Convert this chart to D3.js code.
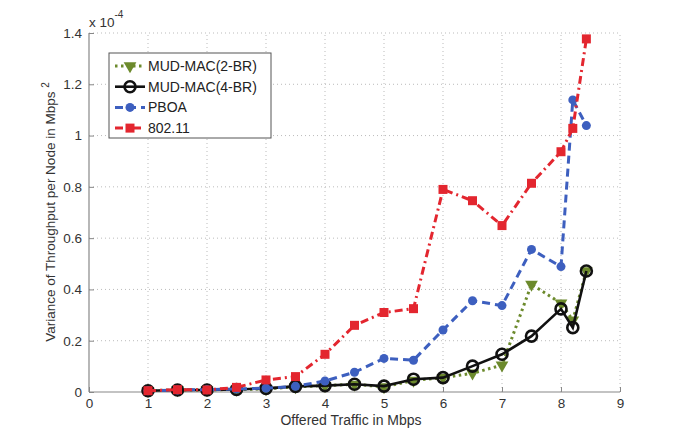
<!DOCTYPE html>
<html><head><meta charset="utf-8">
<script src="https://cdn.jsdelivr.net/npm/d3@7"></script>
<style>body{margin:0;background:#fff}svg{display:block}text{font-family:"Liberation Sans",Arial,sans-serif}</style>
</head><body><svg id="c" width="685" height="441"></svg>
<script>
const xValues = [1,1.5,2,2.5,3,3.5,4,4.5,5,5.5,6,6.5,7,7.5,8,8.2,8.43];
const mud2 = [0.005,0.008,0.008,0.01,0.012,0.02,0.025,0.03,0.02,0.045,0.056,0.073,0.105,0.42,0.346,0.28,0.472];
const mud4 = [0.005,0.008,0.008,0.01,0.014,0.022,0.025,0.03,0.023,0.05,0.056,0.101,0.147,0.218,0.324,0.251,0.472];
const pboa = [0.005,0.008,0.009,0.012,0.015,0.022,0.043,0.077,0.131,0.124,0.242,0.356,0.337,0.556,0.489,1.139,1.039];
const w80211 = [0.005,0.009,0.008,0.018,0.047,0.06,0.147,0.26,0.31,0.325,0.79,0.746,0.649,0.814,0.937,1.028,1.377];
const seriesNames = ["MUD-MAC(2-BR)","MUD-MAC(4-BR)","PBOA","802.11"];
const xTicks = [0,1,2,3,4,5,6,7,8,9];
const yTicks = [0,0.2,0.4,0.6,0.8,1,1.2,1.4];
const yTickLabels = ["0","0.2","0.4","0.6","0.8","1","1.2","1.4"];

const svg = d3.select("#c");
const L=89,R=620,T=33,B=392;
const x = d3.scaleLinear().domain([0,9]).range([L,R]);
const y = d3.scaleLinear().domain([0,1.4]).range([B,T]);

// grid
const g = svg.append("g");
g.selectAll(".gx").data(xTicks.slice(1)).join("line")
 .attr("x1",d=>x(d)).attr("x2",d=>x(d)).attr("y1",B).attr("y2",T)
 .attr("stroke","#bbb").attr("stroke-width",1).attr("stroke-dasharray","1,3");
g.selectAll(".gy").data(yTicks.slice(1)).join("line")
 .attr("y1",d=>y(d)).attr("y2",d=>y(d)).attr("x1",L).attr("x2",R)
 .attr("stroke","#bbb").attr("stroke-width",1).attr("stroke-dasharray","1,3");

// axes
const xa = svg.append("g").attr("transform",`translate(0,${B})`)
 .call(d3.axisBottom(x).tickValues(xTicks).tickSize(-5).tickPadding(6).tickFormat(d3.format("d")));
const ya = svg.append("g").attr("transform",`translate(${L},0)`)
 .call(d3.axisLeft(y).tickValues(yTicks).tickSize(-5).tickPadding(7).tickFormat((d,i)=>yTickLabels[i]));
[xa,ya].forEach(a=>{
  a.select(".domain").attr("stroke","#888").attr("stroke-width",1.2);
  a.selectAll(".tick line").attr("stroke","#888");
  a.selectAll("text").attr("font-size",13.5).attr("fill","#333").attr("font-family","Liberation Sans, Arial, sans-serif");
});
xa.select(".domain").attr("d",`M${L},0H${R}`);
ya.select(".domain").attr("d",`M0,${B}V${T}`);

// multiplier
const mt = svg.append("text").attr("x",89).attr("y",27).attr("font-size",13.5).attr("fill","#333");
mt.append("tspan").text("x 10");
mt.append("tspan").attr("dy",-9).attr("font-size",10).text("-4");

// axis titles
svg.append("text").attr("x",351).attr("y",425).attr("text-anchor","middle").attr("font-size",14).attr("fill","#333").text("Offered Traffic in Mbps");
const yl = svg.append("text").attr("transform","translate(55,212) rotate(-90)").attr("text-anchor","middle").attr("font-size",13.5).attr("fill","#333");
yl.append("tspan").text("Variance of Throughput per Node in Mbps ");
yl.append("tspan").attr("dy",-6).attr("font-size",10).text("2");

const styles = [
 {data:mud2,color:"#6c8a2c",dash:"2.5,3.5",w:3,marker:"tri"},
 {data:mud4,color:"#111",dash:null,w:2.6,marker:"ocircle"},
 {data:pboa,color:"#3d5fbf",dash:"8,5",w:3,marker:"circle"},
 {data:w80211,color:"#e3262f",dash:"8,4,2,4",w:3,marker:"square"}
];
const line = d3.line().x(d=>x(d[0])).y(d=>y(d[1]));
function drawMarker(sel,m,color){
  if(m==="tri") sel.append("path").attr("d",d3.symbol(d3.symbolTriangle,70)()).attr("transform","rotate(180)").attr("fill",color);
  else if(m==="ocircle") sel.append("circle").attr("r",5.5).attr("fill","none").attr("stroke",color).attr("stroke-width",2.6);
  else if(m==="circle") sel.append("circle").attr("r",4.5).attr("fill",color);
  else if(m==="square") sel.append("rect").attr("x",-4.5).attr("y",-4.5).attr("width",9).attr("height",9).attr("fill",color);
}
styles.forEach(s=>{
  const pts = xValues.map((xv,i)=>[xv,s.data[i]]);
  svg.append("path").attr("d",line(pts)).attr("fill","none").attr("stroke",s.color)
    .attr("stroke-width",s.w).attr("stroke-dasharray",s.dash);
  svg.append("g").selectAll("g").data(pts).join("g")
    .attr("transform",d=>`translate(${x(d[0])},${y(d[1])})`)
    .each(function(){drawMarker(d3.select(this),s.marker,s.color);});
});

// legend
const lg = svg.append("g");
lg.append("rect").attr("x",109).attr("y",53).attr("width",162).attr("height",85).attr("fill","#fff").attr("stroke","#555").attr("stroke-width",1);
styles.forEach((s,i)=>{
  const yy = 66+i*20.7;
  lg.append("line").attr("x1",115).attr("x2",145).attr("y1",yy).attr("y2",yy).attr("stroke",s.color).attr("stroke-width",s.w).attr("stroke-dasharray",s.dash);
  drawMarker(lg.append("g").attr("transform",`translate(130,${yy})`),s.marker,s.color);
  lg.append("text").attr("x",148).attr("y",yy+5).attr("font-size",14).attr("fill","#222").text(seriesNames[i]);
});
</script></body></html>
